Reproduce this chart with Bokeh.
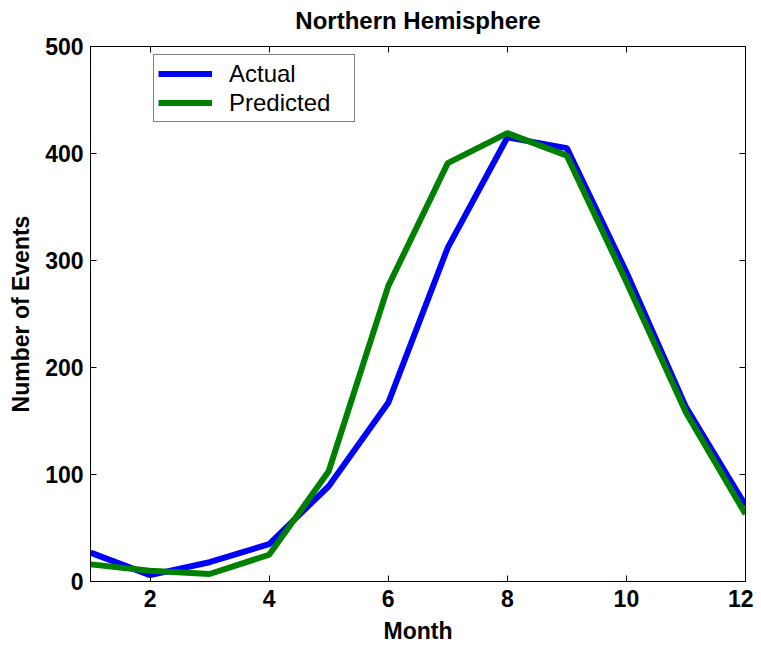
from bokeh.plotting import figure
from bokeh.models import LinearAxis, FixedTicker, Range1d, Legend, LegendItem
from bokeh.embed import file_html
from bokeh.resources import INLINE

months = [1, 2, 3, 4, 5, 6, 7, 8, 9, 10, 11, 12]
actual = [27, 6, 18, 35, 89, 167, 312, 415, 405, 289, 163, 71]
predicted = [16, 10, 7, 25, 103, 276, 391, 419, 398, 280, 158, 63]
x_ticks = [2, 4, 6, 8, 10, 12]
y_ticks = [0, 100, 200, 300, 400, 500]

FONT = "Liberation Sans"

p = figure(width=753, height=647, output_backend="svg", toolbar_location=None,
           x_range=Range1d(1, 12), y_range=Range1d(0, 500),
           min_border_left=90, min_border_right=8, min_border_top=45, min_border_bottom=66,
           x_axis_label="Month", y_axis_label="Number of Events",
           title="Northern Hemisphere")
p.title.align = "center"
p.title.text_font = FONT
p.title.text_font_size = "24px"
p.title.text_font_style = "bold"
p.title.text_color = "black"
p.title.standoff = 8
p.xgrid.visible = False
p.ygrid.visible = False
p.outline_line_color = "black"
p.outline_line_width = 1

for ax, ticks in ((p.xaxis[0], x_ticks), (p.yaxis[0], y_ticks)):
    ax.ticker = FixedTicker(ticks=ticks)
    ax.major_tick_in = 6
    ax.major_tick_out = 0
    ax.minor_tick_in = 0
    ax.minor_tick_out = 0
    ax.major_label_text_font = FONT
    ax.major_label_text_font_size = "23px"
    ax.major_label_text_font_style = "bold"
    ax.major_label_text_color = "black"
    ax.axis_label_text_font = FONT
    ax.axis_label_text_font_size = "23px"
    ax.axis_label_text_font_style = "bold"
    ax.axis_label_text_color = "black"
    ax.axis_line_color = "black"
    ax.major_tick_line_color = "black"
p.xaxis[0].major_label_standoff = 8
p.xaxis[0].axis_label_standoff = 8
p.yaxis[0].major_label_standoff = 7
p.yaxis[0].axis_label_standoff = 8

for loc, ticks in (("right", y_ticks), ("above", x_ticks)):
    ax = LinearAxis(ticker=FixedTicker(ticks=ticks), major_tick_in=6, major_tick_out=0,
                    minor_tick_in=0, minor_tick_out=0,
                    major_label_overrides={t: "" for t in ticks},
                    major_label_standoff=0, axis_line_color="black",
                    major_tick_line_color="black")
    p.add_layout(ax, loc)

# invisible spacer axis to lift the title
spacer = LinearAxis(ticker=FixedTicker(ticks=x_ticks), major_tick_in=0, major_tick_out=9,
                    minor_tick_in=0, minor_tick_out=0,
                    major_label_overrides={t: "" for t in x_ticks},
                    major_label_standoff=0, axis_line_color=None,
                    major_tick_line_color=None)
p.add_layout(spacer, "above")

r1 = p.line(months, actual, line_color="#0000ff", line_width=6)
r2 = p.line(months, predicted, line_color="#008000", line_width=6)

legend = Legend(items=[LegendItem(label="Actual", renderers=[r1]),
                       LegendItem(label="Predicted", renderers=[r2])],
                location=(63, 459))
legend.label_text_font = FONT
legend.label_text_font_size = "24px"
legend.label_text_color = "black"
legend.glyph_width = 54
legend.label_standoff = 17
legend.label_width = 121
legend.spacing = 0
legend.padding = 4
legend.margin = 0
legend.border_line_color = "black"
legend.border_line_width = 1
legend.label_height = 29
legend.glyph_height = 29
p.add_layout(legend, "center")

open("out.html", "w").write(file_html(p, INLINE))
